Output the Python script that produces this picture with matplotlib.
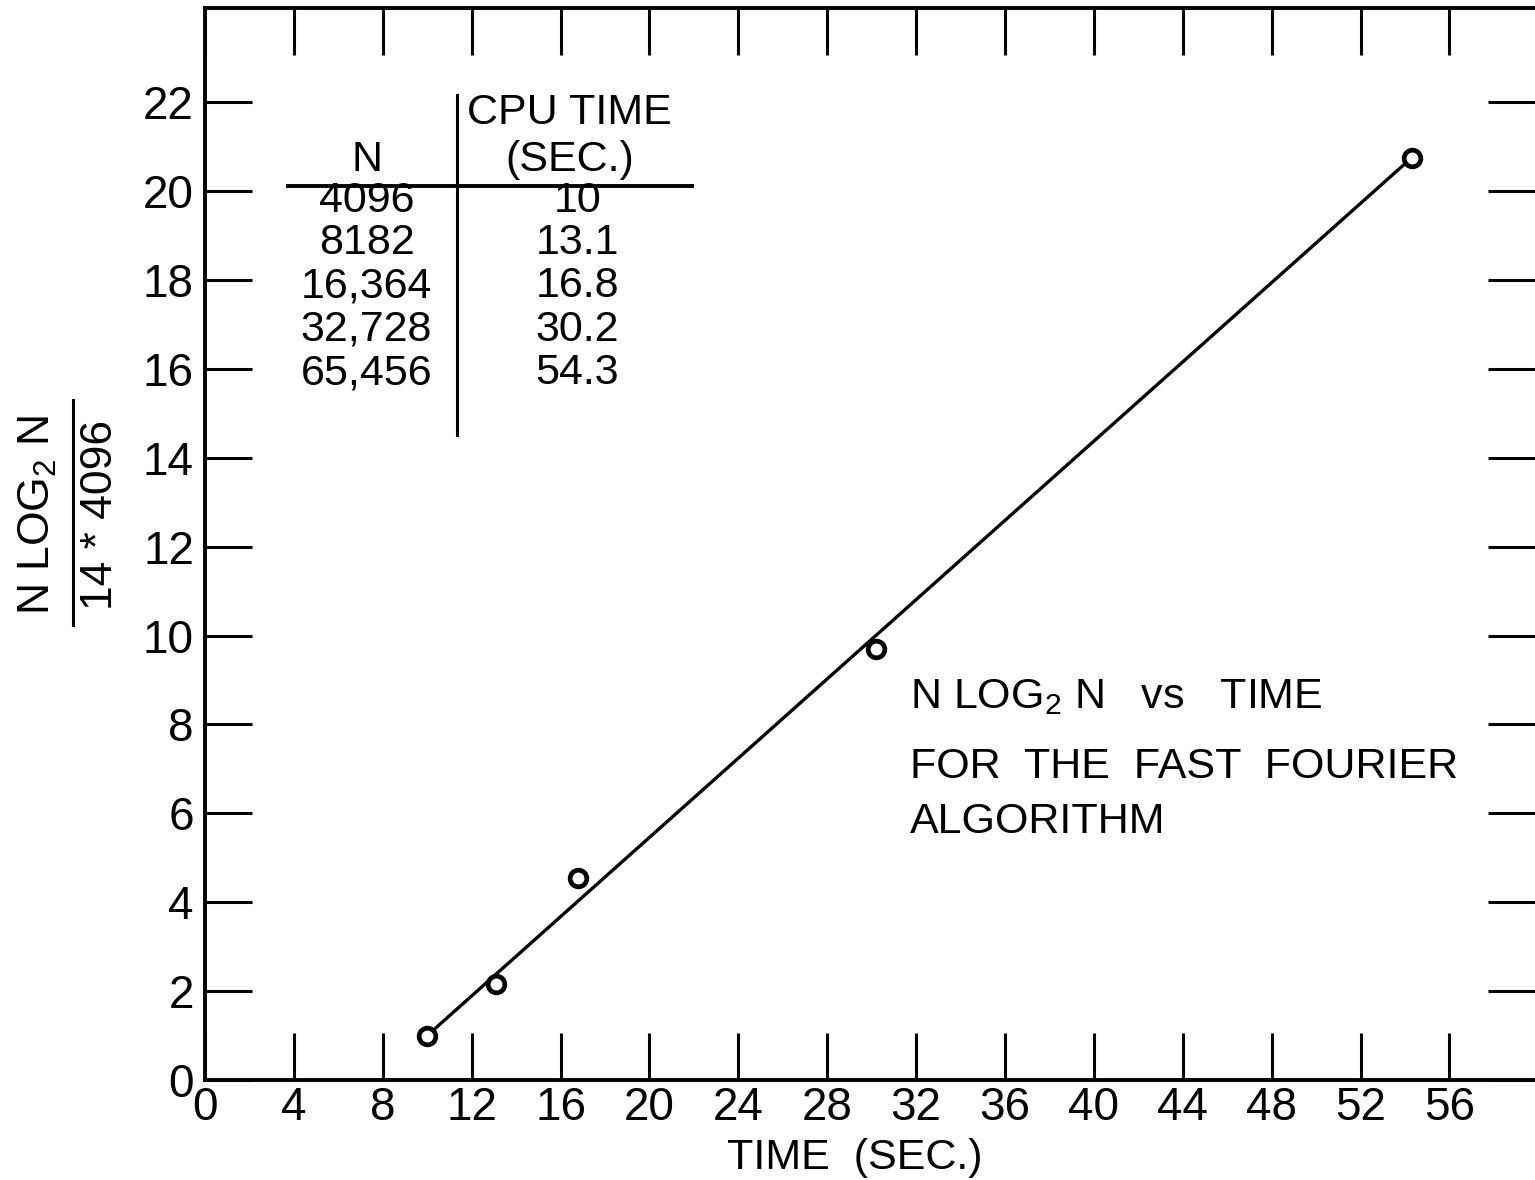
import matplotlib.pyplot as plt
from matplotlib.lines import Line2D

plt.rcParams['font.family'] = ['Liberation Sans', 'DejaVu Sans']
plt.rcParams['mathtext.default'] = 'regular'

# table / data
n_values = ['4096', '8182', '16,364', '32,728', '65,456']
cpu_times = [10, 13.1, 16.8, 30.2, 54.3]
cpu_labels = ['10', '13.1', '16.8', '30.2', '54.3']
ratio = [1.0, 2.15, 4.55, 9.7, 20.75]   # N log2 N / (14*4096), as plotted

# straight line drawn through the points
fit_time = [10, 54.3]
fit_ratio = [1.0, 20.75]

x_ticks = list(range(4, 57, 4))
x_ticklabels = [str(t) for t in range(0, 57, 4)]
y_ticks = list(range(0, 23, 2))

fig = plt.figure(figsize=(15.35, 11.8), dpi=100)
ax = fig.add_axes([205 / 1535, 1 - 1080 / 1180, 1 - 205 / 1535, (1080 - 8) / 1180])
ax.set_xlim(0, 59.85)
ax.set_ylim(0, 24.12)

ax.plot(fit_time, fit_ratio, color='black', lw=2.4, zorder=2)
ax.plot(cpu_times, ratio, 'o', ms=12, mfc='white', mec='black', mew=3.4, zorder=3)

# ticks on all four sides, pointing in
ax.set_xticks([0] + x_ticks)
ax.set_xticklabels(x_ticklabels)
ax.set_yticks(y_ticks)
ax.tick_params(direction='in', length=34, width=2.2, labelsize=33, top=True, right=True,
               color='black')
ax.tick_params(axis='x', pad=4)
ax.tick_params(axis='y', pad=8)
for sp in ax.spines.values():
    sp.set_linewidth(2.8)
ax.spines['right'].set_visible(False)

# table in the upper left
ax.plot([11.34, 11.34], [22.16, 14.51], color='black', lw=2.2)
ax.plot([3.74, 21.92], [20.11, 20.11], color='black', lw=2.8)
ax.text(7.29, 20.70, 'N', fontsize=31, ha='center', va='center')
ax.text(16.4, 21.75, 'CPU TIME', fontsize=31, ha='center', va='center')
ax.text(16.4, 20.70, '(SEC.)', fontsize=31, ha='center', va='center')
row_y = [19.78, 18.84, 17.86, 16.88, 15.90]
for n, c, yy in zip(n_values, cpu_labels, row_y):
    ax.text(7.27, yy, n, fontsize=31, ha='center', va='center')
    ax.text(16.75, yy, c, fontsize=31, ha='center', va='center')

# caption inside the plot
ax.text(31.73, 8.62, r'N LOG$_2$ N   vs   TIME', fontsize=31, ha='left', va='center')
ax.text(31.73, 7.04, 'FOR  THE  FAST  FOURIER', fontsize=31, ha='left', va='center')
ax.text(31.73, 5.80, 'ALGORITHM', fontsize=31, ha='left', va='center')

# axis titles
fig.text(855 / 1535, 1 - 1158 / 1180, 'TIME  (SEC.)', fontsize=31, ha='center', va='center')
fig.text(38 / 1535, 1 - 515 / 1180, r'N LOG$_2$ N', fontsize=32, rotation=90,
         ha='center', va='center')
fig.text(100 / 1535, 1 - 515 / 1180, '14 * 4096', fontsize=32, rotation=90,
         ha='center', va='center')
fig.add_artist(Line2D([73 / 1535, 73 / 1535], [1 - 625 / 1180, 1 - 400 / 1180],
                      color='black', lw=2.2, transform=fig.transFigure))

fig.savefig('out.png', dpi=100)
